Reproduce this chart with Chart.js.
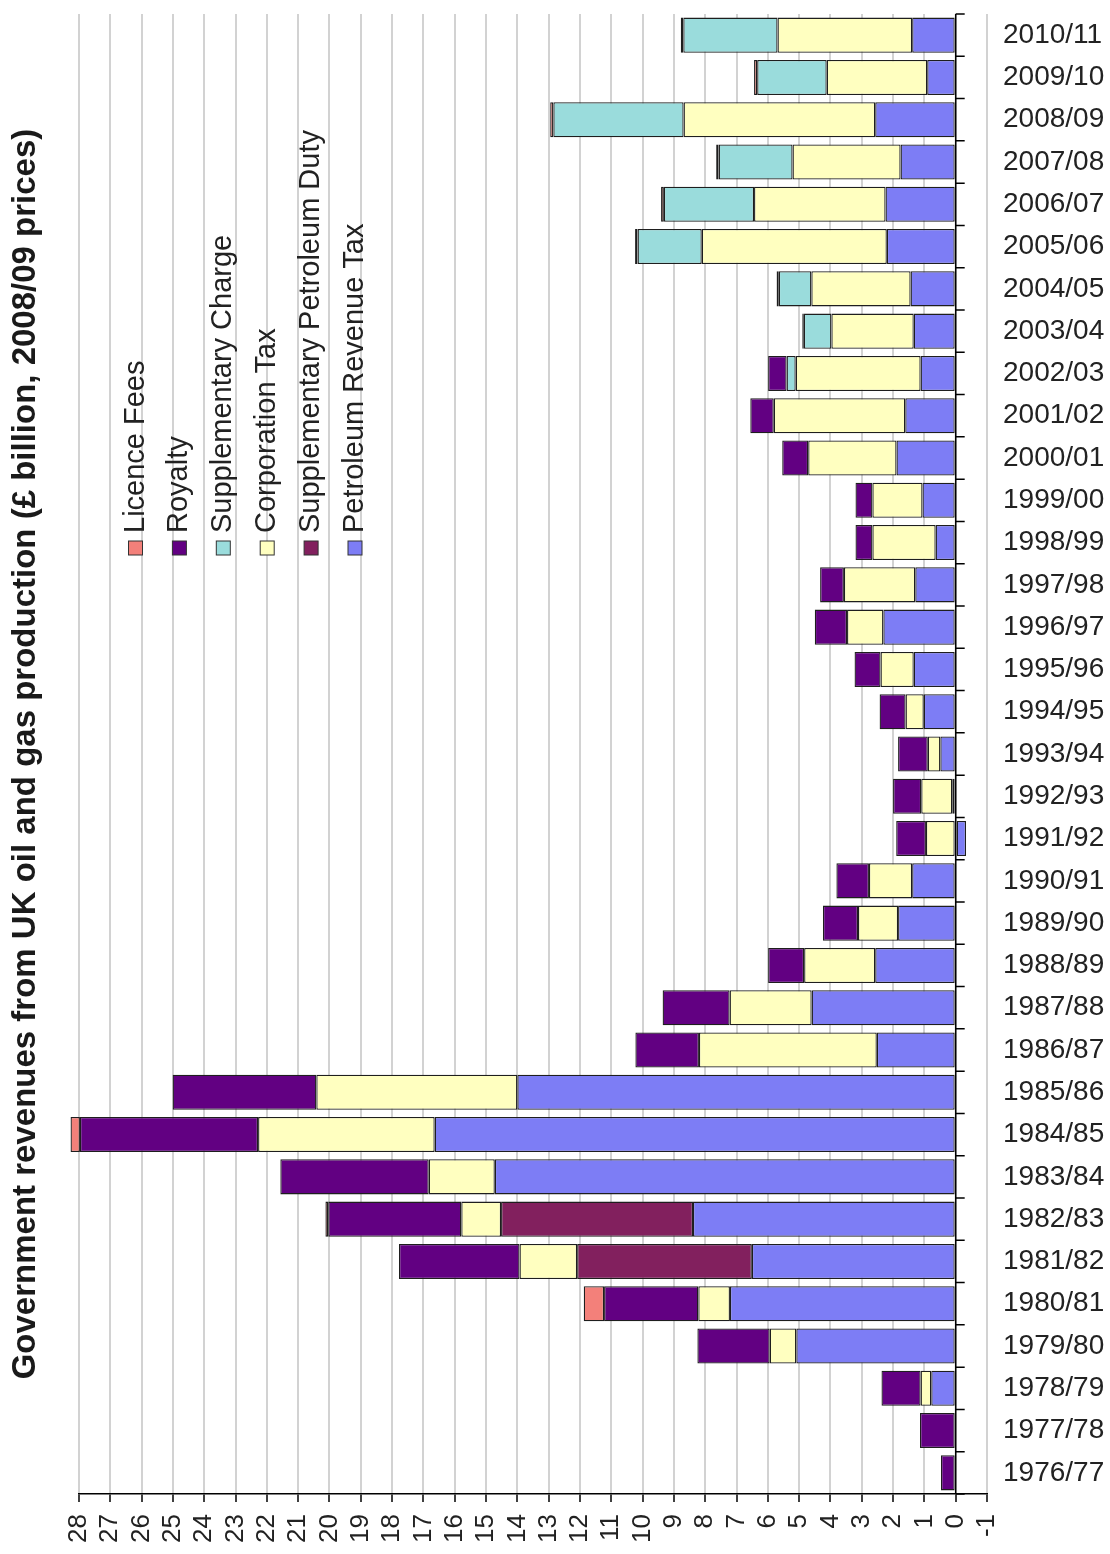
<!DOCTYPE html>
<html>
<head>
<meta charset="utf-8">
<script src="https://cdn.jsdelivr.net/npm/chart.js@4.4.0/dist/chart.umd.min.js"></script>
<style>
  body { margin: 0; background: #fff; }
  #wrap { width: 1110px; height: 1554px; }
</style>
</head>
<body>
<div id="wrap"><canvas id="revCanvas" width="1110" height="1554"></canvas></div>
<script>
// fiscal years, oldest first
var years = ['1976/77', '1977/78', '1978/79', '1979/80', '1980/81', '1981/82', '1982/83',
    '1983/84', '1984/85', '1985/86', '1986/87', '1987/88', '1988/89', '1989/90', '1990/91',
    '1991/92', '1992/93', '1993/94', '1994/95', '1995/96', '1996/97', '1997/98', '1998/99',
    '1999/00', '2000/01', '2001/02', '2002/03', '2003/04', '2004/05', '2005/06', '2006/07',
    '2007/08', '2008/09', '2009/10', '2010/11'];

// £ billion, 2008/09 prices
var petroleumRevenueTax = [0, 0, 0.78, 5.09, 7.21, 6.51, 8.39, 14.72, 16.64, 14.0, 2.52, 4.6,
    2.57, 1.84, 1.39, -0.33, 0.11, 0.49, 1.02, 1.34, 2.31, 1.29, 0.64, 1.06, 1.89, 1.61,
    1.12, 1.34, 1.44, 2.2, 2.24, 1.76, 2.57, 0.91, 1.39];
var suppPetroleumDuty = [0, 0, 0, 0, 0, 5.58, 6.13, 0, 0, 0, 0, 0, 0, 0, 0, 0, 0, 0, 0, 0,
    0, 0, 0, 0, 0, 0, 0, 0, 0, 0, 0, 0, 0, 0, 0];
var corporationTax = [0, 0, 0.34, 0.85, 1.01, 1.84, 1.27, 2.11, 5.64, 6.42, 5.68, 2.62,
    2.27, 1.28, 1.38, 0.95, 0.99, 0.4, 0.58, 1.06, 1.16, 2.28, 2.02, 1.6, 2.82, 4.2,
    3.99, 2.63, 3.17, 5.91, 4.2, 3.45, 6.12, 3.21, 4.3];
var suppCharge = [0, 0, 0, 0, 0, 0, 0, 0, 0, 0, 0, 0, 0, 0, 0, 0, 0, 0, 0, 0, 0, 0, 0, 0,
    0, 0, 0.29, 0.88, 1.04, 2.05, 2.88, 2.36, 4.16, 2.22, 3.01];
var royalty = [0.47, 1.14, 1.25, 2.31, 3.01, 3.85, 4.25, 4.74, 5.69, 4.59, 2.03, 2.14,
    1.15, 1.12, 1.04, 0.95, 0.9, 0.95, 0.83, 0.83, 1.03, 0.76, 0.54, 0.54, 0.83, 0.75,
    0.59, 0, 0, 0, 0, 0, 0, 0, 0];
var licenceFees = [0, 0, 0, 0, 0.65, 0, 0.09, 0, 0.3, 0, 0, 0, 0, 0, 0, 0, 0, 0, 0, 0,
    0, 0, 0, 0, 0, 0, 0, 0.05, 0.07, 0.08, 0.09, 0.08, 0.1, 0.1, 0.08];

var valueMin = -1;
var valueMax = 28;

var titleText = 'Government revenues from UK oil and gas production (\u00a3 billion, 2008/09 prices)';
var fontFamily = '"Liberation Sans", Arial, sans-serif';

function series(label, data, colour) {
    return {
        label: label,
        data: data,
        backgroundColor: colour,
        borderColor: '#1e1e1e',
        borderWidth: 1.3,
        borderSkipped: false,
        barPercentage: 0.83,
        categoryPercentage: 1.0,
        clip: false
    };
}

// stacking order: first dataset sits next to zero
var datasets = [
    series('Petroleum Revenue Tax', petroleumRevenueTax, '#7d7df5'),
    series('Supplementary Petroleum Duty', suppPetroleumDuty, '#82205e'),
    series('Corporation Tax', corporationTax, '#ffffc0'),
    series('Supplementary Charge', suppCharge, '#9adcdc'),
    series('Royalty', royalty, '#620082'),
    series('Licence Fees', licenceFees, '#f3807a')
];

// sideways title, rotated legend and tick marks along the zero line
var sidewaysBits = {
    id: 'sidewaysBits',
    afterDatasetsDraw: function(chart) {
        var ctx = chart.ctx;
        var area = chart.chartArea;
        var xs = chart.scales.x;
        var ys = chart.scales.y;
        var x0 = xs.getPixelForValue(0);
        var step = Math.abs(ys.getPixelForValue(1) - ys.getPixelForValue(0));

        ctx.save();
        ctx.strokeStyle = '#000';
        ctx.lineWidth = 1.5;
        ctx.beginPath();
        ctx.moveTo(x0, area.top);
        ctx.lineTo(x0, area.bottom);
        for (var i = 0; i < years.length; i++) {
            var yc = ys.getPixelForValue(i);
            [yc - step / 2, yc + step / 2].forEach(function(y) {
                ctx.moveTo(x0, y);
                ctx.lineTo(x0 + 9, y);
            });
        }
        ctx.stroke();

        // title
        ctx.save();
        ctx.translate(26, (area.top + area.bottom) / 2);
        ctx.rotate(-Math.PI / 2);
        ctx.font = 'bold 33px ' + fontFamily;
        ctx.fillStyle = '#1a1a1a';
        ctx.textAlign = 'center';
        ctx.textBaseline = 'middle';
        ctx.fillText(titleText, 0, 0);
        ctx.restore();

        // legend, listed in reverse of the stacking order
        var items = chart.data.datasets.slice().reverse();
        ctx.font = '29px ' + fontFamily;
        ctx.textAlign = 'left';
        ctx.textBaseline = 'alphabetic';
        items.forEach(function(ds, k) {
            var cx = 135.5 + k * 43.9;
            ctx.fillStyle = ds.backgroundColor;
            ctx.fillRect(cx - 7, 541, 14, 14);
            ctx.strokeStyle = '#333';
            ctx.lineWidth = 1;
            ctx.strokeRect(cx - 7, 541, 14, 14);
            ctx.save();
            ctx.translate(cx + 8, 533);
            ctx.rotate(-Math.PI / 2);
            ctx.fillStyle = '#222';
            ctx.fillText(ds.label, 0, 0);
            ctx.restore();
        });
        ctx.restore();
    }
};

var ctx = document.getElementById('revCanvas');
var revChart = new Chart(ctx, {
    type: 'bar',
    data: { labels: years, datasets: datasets },
    plugins: [sidewaysBits],
    options: {
        indexAxis: 'y',
        responsive: false,
        animation: false,
        layout: { padding: { top: 14, left: 79, right: 0, bottom: 0 } },
        plugins: {
            legend: { display: false },
            tooltip: { enabled: false },
            title: { display: false }
        },
        scales: {
            x: {
                type: 'linear',
                stacked: true,
                reverse: true,
                min: valueMin,
                max: valueMax,
                position: 'bottom',
                afterFit: function(scale) {
                    scale.height = 60;
                    scale.paddingLeft = 0;
                    scale.paddingRight = 0;
                },
                border: { display: true, color: '#000', width: 1.5 },
                grid: {
                    color: '#d2d2d2',
                    lineWidth: 2,
                    drawTicks: true,
                    tickLength: 8,
                    tickColor: '#000',
                    tickWidth: 1.5
                },
                ticks: {
                    stepSize: 1,
                    autoSkip: false,
                    minRotation: 90,
                    maxRotation: 90,
                    padding: 12,
                    color: '#222',
                    font: { family: fontFamily, size: 26 }
                }
            },
            y: {
                type: 'category',
                stacked: true,
                reverse: true,
                position: 'right',
                afterFit: function(scale) {
                    scale.width = 123;
                    scale.paddingTop = 0;
                    scale.paddingBottom = 0;
                },
                border: { display: false },
                grid: { display: false, drawTicks: false },
                ticks: {
                    autoSkip: false,
                    padding: 16,
                    color: '#222',
                    font: { family: fontFamily, size: 28 }
                }
            }
        }
    }
});
</script>
</body>
</html>
